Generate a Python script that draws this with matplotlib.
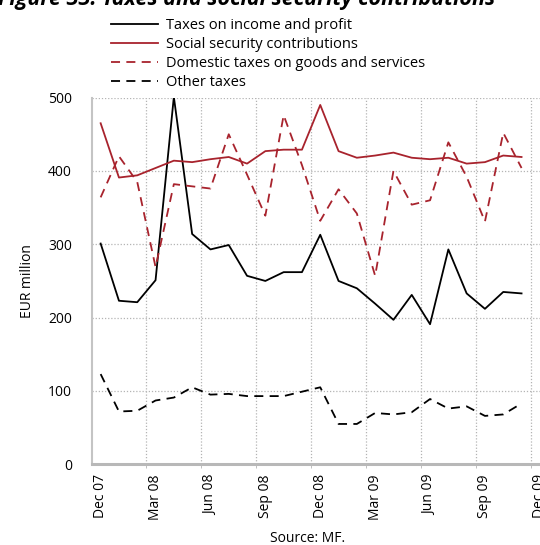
import matplotlib
matplotlib.use("Agg")
import matplotlib.pyplot as plt

plt.rcParams['font.family'] = ['Open Sans', 'DejaVu Sans']

# Monthly data, Dec 2007 - Nov 2009 (EUR million)
months = ["Dec 07", "Jan 08", "Feb 08", "Mar 08", "Apr 08", "May 08", "Jun 08",
          "Jul 08", "Aug 08", "Sep 08", "Oct 08", "Nov 08", "Dec 08", "Jan 09",
          "Feb 09", "Mar 09", "Apr 09", "May 09", "Jun 09", "Jul 09", "Aug 09",
          "Sep 09", "Oct 09", "Nov 09"]

income_profit = [301, 223, 221, 251, 501, 314, 293, 299, 257, 250, 262, 262,
                 313, 250, 240, 219, 197, 231, 191, 293, 233, 212, 235, 233]
social_security = [465, 391, 394, 404, 414, 412, 416, 419, 410, 427, 429, 429,
                   490, 427, 418, 421, 425, 418, 416, 418, 410, 412, 421, 419]
domestic_goods = [364, 420, 385, 269, 382, 379, 376, 450, 395, 339, 476, 408,
                  332, 375, 342, 257, 400, 354, 360, 439, 392, 331, 452, 404]
other_taxes = [123, 72, 73, 87, 91, 105, 95, 96, 93, 93, 93, 99,
               105, 55, 55, 70, 68, 71, 89, 76, 79, 66, 68, 83]

tick_labels = ["Dec 07", "Mar 08", "Jun 08", "Sep 08", "Dec 08",
               "Mar 09", "Jun 09", "Sep 09", "Dec 09"]

RED = "#a8232d"
GRID = "#b4b4b4"

W, H = 540, 545
fig = plt.figure(figsize=(W / 100, H / 100), dpi=100)
left, right, bottom, top = 91.5, 549.0, 464.3, 97.6
ax = fig.add_axes([left / W, 1 - bottom / H, (right - left) / W, (bottom - top) / H])

x = list(range(len(months)))
lw = 1.3
ax.plot(x, income_profit, color="black", lw=lw, label="Taxes on income and profit")
ax.plot(x, social_security, color=RED, lw=lw, label="Social security contributions")
ax.plot(x, domestic_goods, color=RED, lw=lw, ls=(0, (5, 3.5)),
        label="Domestic taxes on goods and services")
ax.plot(x, other_taxes, color="black", lw=lw, ls=(0, (5, 3.5)), label="Other taxes")

ax.set_xlim(-0.5, 24.5)
ax.set_ylim(0, 500)

ax.set_xticks(range(0, 25, 3))
ax.set_xticklabels(tick_labels, rotation=90, fontsize=10)
ax.set_xticks([i + 0.5 for i in range(2, 25, 3)], minor=True)
ax.tick_params(axis="x", which="major", length=0, pad=7)
ax.tick_params(axis="x", which="minor", length=3, color=GRID, direction="out")

ax.set_yticks(range(0, 501, 100))
ax.set_yticklabels([str(v) for v in range(0, 501, 100)], fontsize=10)
ax.tick_params(axis="y", length=0, pad=14)

ax.grid(True, axis="y", which="major", color=GRID, ls=(0, (1, 1.5)), lw=0.9)
ax.grid(True, axis="x", which="minor", color=GRID, ls=(0, (1, 1.5)), lw=0.9)
ax.set_axisbelow(True)

for side in ("top", "right"):
    ax.spines[side].set_visible(False)
ax.spines["left"].set_color("#c4c4c4")
ax.spines["left"].set_linewidth(1.5)
ax.spines["bottom"].set_color("#b8b8b8")
ax.spines["bottom"].set_linewidth(2.2)

ax.set_ylabel("EUR million", fontsize=10)
ax.yaxis.set_label_coords(-(91.5 - 35) / (right - left), 0.5)

fig.text(308 / W, 1 - 538 / H, "Source: MF.", ha="center", va="center", fontsize=10)

fig.text(-2 / W, 1 - 5 / H, "Figure 33: Taxes and social security contributions",
         ha="left", va="baseline", fontsize=15.5, fontweight="bold", style="italic")

handles, labels = ax.get_legend_handles_labels()
fig.legend(handles, labels, loc="upper left", bbox_to_anchor=(111 / W, 1 - 18 / H),
           frameon=False, fontsize=10.5, handlelength=3.2, handletextpad=0.6,
           labelspacing=0.27, borderaxespad=0, borderpad=0)

fig.savefig("out.png", dpi=100)
